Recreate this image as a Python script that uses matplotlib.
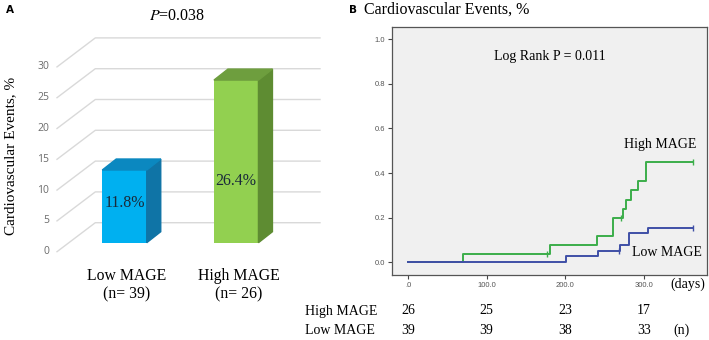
import matplotlib

matplotlib.use("Agg")
import matplotlib.pyplot as plt
from matplotlib.patches import Polygon
from matplotlib.transforms import blended_transform_factory

# ---- panel A data ----
groups = ["Low MAGE\n(n= 39)", "High MAGE\n(n= 26)"]
event_pct = [11.8, 26.4]
bar_labels = ["11.8%", "26.4%"]
y_ticks_a = [0, 5, 10, 15, 20, 25, 30]

# ---- panel B data (cumulative event curves) ----
high_days = [0, 70, 180, 240, 261, 273, 277, 283, 292, 302, 362]
high_cum = [0.0, 0.038, 0.077, 0.118, 0.197, 0.237, 0.280, 0.322, 0.365, 0.451, 0.451]
high_cens_days = [177, 271, 362]
high_cens_cum = [0.038, 0.197, 0.451]

low_days = [0, 201, 241, 270, 281, 305, 362]
low_cum = [0.0, 0.026, 0.052, 0.078, 0.130, 0.155, 0.155]
low_cens_days = [268, 362]
low_cens_cum = [0.052, 0.155]

risk_times = [0, 100, 200, 300]
risk_high = [26, 25, 23, 17]
risk_low = [39, 39, 38, 33]
x_ticks_b = [0, 100, 200, 300]
x_tick_labels_b = [".0", "100.0", "200.0", "300.0"]
y_ticks_b = [0.0, 0.2, 0.4, 0.6, 0.8, 1.0]

SERIF = "Liberation Serif"
SANS = "Liberation Sans"

W, H = 709, 340
fig = plt.figure(figsize=(W / 100, H / 100), dpi=100)

# ================= panel A: pseudo-3D bar chart =================
# x: 1 unit = 111.7 px, y: 1 unit = 6.16 px, front floor 0 at 251.7 px
PX_X, PX_Y, X0, Y0 = 111.7, 6.16, 124.5, 251.7
ax1 = fig.add_axes([0, 0, 355 / W, 1])
ax1.set_xlim(-X0 / PX_X, (355 - X0) / PX_X)
ax1.set_ylim(-(H - Y0) / PX_Y, Y0 / PX_Y)
ax1.axis("off")

FLOOR_DX, FLOOR_DY = 38.3 / PX_X, 29 / PX_Y
FLOOR_X0 = (57 - X0) / PX_X
WALL_END = (320 - X0) / PX_X
BAR_W = 44.5 / PX_X
BAR_BASE = 9 / PX_Y
BAR_DX, BAR_DY = 14 / PX_X, 11 / PX_Y

for t in y_ticks_a:
    ax1.plot([FLOOR_X0, FLOOR_X0 + FLOOR_DX, WALL_END],
             [t, t + FLOOR_DY, t + FLOOR_DY], color="#d9d9d9", lw=1.0, zorder=1)
    ax1.text(FLOOR_X0 - 0.07, t, str(t), ha="right", va="center",
             fontsize=7.5, color="#6b6b6b", family="Open Sans")

face_cols = ["#00b0f0", "#92d050"]
side_cols = ["#0f74a6", "#5e8c32"]
top_cols = ["#0b88c0", "#6e9e3e"]
xs = list(range(len(event_pct)))
ax1.bar(xs, event_pct, bottom=BAR_BASE, width=BAR_W, color=face_cols, zorder=3)
for x, v, sc, tc in zip(xs, event_pct, side_cols, top_cols):
    r, l, top = x + BAR_W / 2, x - BAR_W / 2, BAR_BASE + v
    ax1.add_patch(Polygon([(r, BAR_BASE), (r + BAR_DX, BAR_BASE + BAR_DY),
                           (r + BAR_DX, top + BAR_DY), (r, top)],
                          closed=True, color=sc, zorder=3))
    ax1.add_patch(Polygon([(l, top), (l + BAR_DX, top + BAR_DY),
                           (r + BAR_DX, top + BAR_DY), (r, top)],
                          closed=True, color=tc, zorder=3))

# value labels sit at a fraction of each bar's height
label_frac = [0.55, 0.38]
for x, v, lab, f in zip(xs, event_pct, bar_labels, label_frac):
    ax1.text(x, BAR_BASE + v * f, lab, ha="center", va="center",
             fontsize=11.5, family=SERIF, color="#1a2a3a", zorder=4)

for x, g in zip(xs, groups):
    ax1.text(x + 0.02, -2.7, g, ha="center", va="top", fontsize=11.3,
             family=SERIF, linespacing=1.15)

ax1.text(-1.02, 15.5, "Cardiovascular Events, %", rotation=90, ha="center",
         va="center", fontsize=11, family=SERIF)
fig.text(177 / W, 1 - 16 / H, "$\\it{P}$=0.038", ha="center", va="center",
         fontsize=11.5, family=SERIF, math_fontfamily="stix")
fig.text(6 / W, 1 - 10 / H, "A", ha="left", va="center", fontsize=7.5,
         fontweight="bold", family="DejaVu Sans")

# ================= panel B: cumulative event curves =================
ax2 = fig.add_axes([392 / W, (H - 275) / H, 315 / W, 248 / H])
ax2.set_facecolor("#f0f0f0")
ax2.set_xlim(-20.3, 380)
ax2.set_ylim(-0.057, 1.055)

green, blue = "#3cae4a", "#3f4fa6"
ax2.step(high_days, high_cum, where="post", color=green, lw=1.4)
ax2.step(low_days, low_cum, where="post", color=blue, lw=1.4)
ax2.plot(high_cens_days, high_cens_cum, "|", color=green, ms=5, mew=1.0)
ax2.plot(low_cens_days, low_cens_cum, "|", color=blue, ms=5, mew=1.0)

ax2.set_xticks(x_ticks_b)
ax2.set_xticklabels(x_tick_labels_b)
ax2.set_yticks(y_ticks_b)
ax2.set_yticklabels([f"{v:.1f}" for v in y_ticks_b])
ax2.tick_params(direction="out", length=3, width=0.8, colors="#444444",
                labelsize=5.5, pad=2)
for lab in ax2.get_xticklabels() + ax2.get_yticklabels():
    lab.set_family(SANS)
    lab.set_color("#555555")
for sp in ax2.spines.values():
    sp.set_color("#555555")
    sp.set_linewidth(0.9)

ax2.text(0.5, 0.882, "Log Rank P = 0.011", transform=ax2.transAxes,
         ha="center", va="center", fontsize=10, family=SERIF)
ax2.text(320, 0.527, "High MAGE", ha="center", va="center", fontsize=10,
         family=SERIF)
ax2.text(329, 0.046, "Low MAGE", ha="center", va="center", fontsize=10,
         family=SERIF)

fig.text(349 / W, 1 - 10 / H, "B", ha="left", va="center", fontsize=7.5,
         fontweight="bold", family="DejaVu Sans")
fig.text(364 / W, 1 - 10 / H, "Cardiovascular Events, %", ha="left",
         va="center", fontsize=11.5, family=SERIF)

# number-at-risk table
tr = blended_transform_factory(ax2.transData, fig.transFigure)
row_y = [1 - 311 / H, 1 - 330 / H]
for t, nh, nl in zip(risk_times, risk_high, risk_low):
    ax2.text(t, row_y[0], str(nh), transform=tr, ha="center", va="center",
             fontsize=10, family=SERIF)
    ax2.text(t, row_y[1], str(nl), transform=tr, ha="center", va="center",
             fontsize=10, family=SERIF)
fig.text(305 / W, row_y[0], "High MAGE", ha="left", va="center", fontsize=10,
         family=SERIF)
fig.text(305 / W, row_y[1], "Low MAGE", ha="left", va="center", fontsize=10,
         family=SERIF)
ax2.text(348, row_y[1], "(n)", transform=tr, ha="center", va="center",
         fontsize=10, family=SERIF)
ax2.text(355, 1 - 284 / H, "(days)", transform=tr, ha="center", va="center",
         fontsize=10, family=SERIF)

fig.savefig("out.png", dpi=100)
